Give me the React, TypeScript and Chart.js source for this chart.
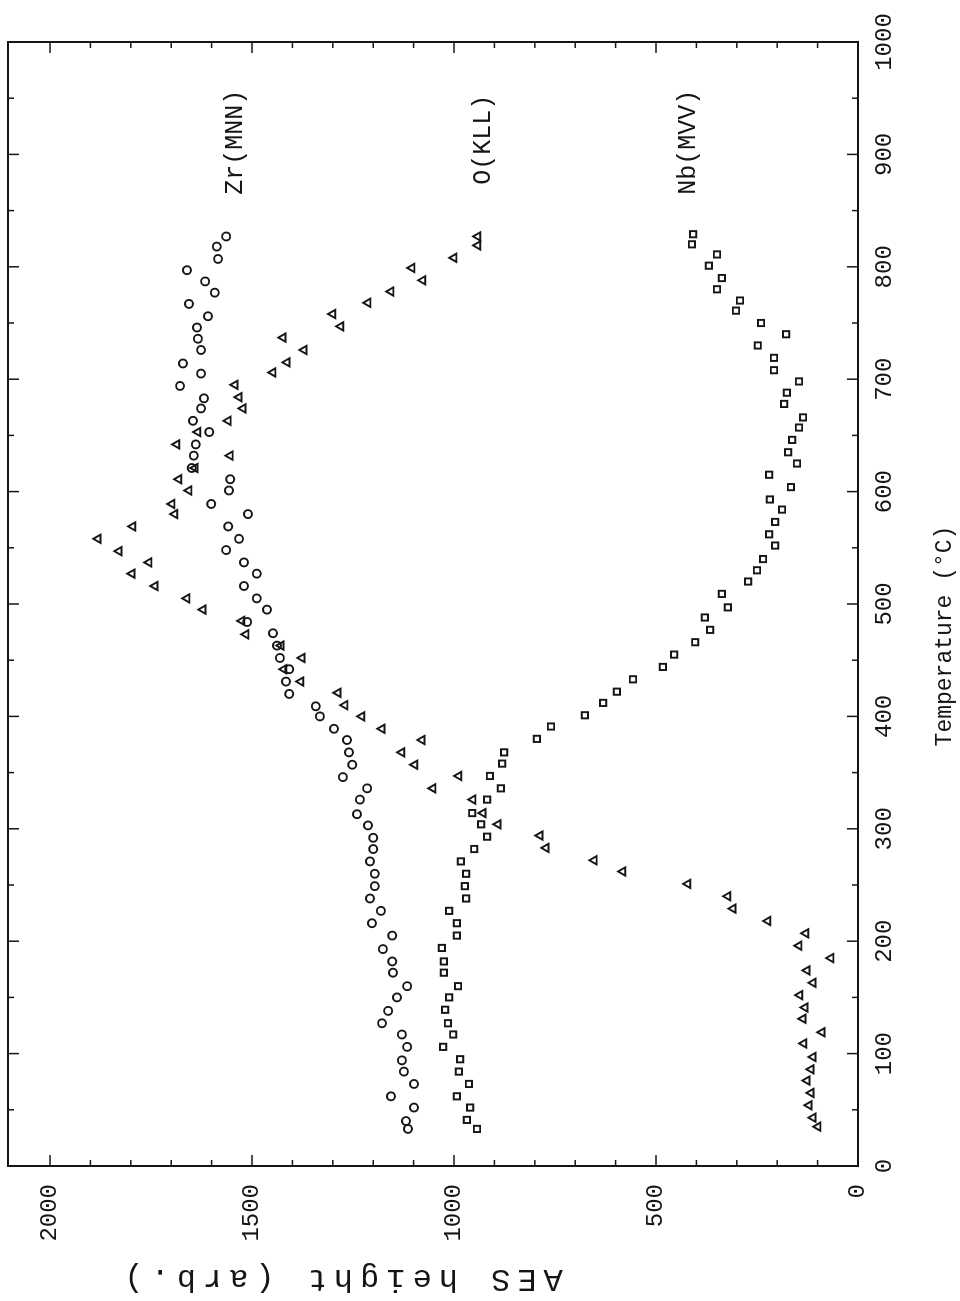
import React, { useEffect, useRef } from 'react';
import { Chart, registerables } from 'chart.js';

Chart.register(...registerables);

// Zr(MNN) – circles
const zrTemp = [33, 40, 52, 62, 73, 84, 94, 106, 117, 127, 138, 150, 160, 172, 182, 193, 205, 216, 227, 238, 249, 260, 271, 282, 292, 303, 313, 326, 336, 346, 357, 368, 379, 389, 400, 409, 420, 431, 442, 452, 463, 474, 484, 495, 505, 516, 527, 537, 548, 558, 569, 580, 589, 601, 611, 621, 632, 642, 653, 663, 674, 683, 694, 705, 714, 726, 736, 746, 756, 767, 777, 787, 797, 807, 818, 827];
const zrHeight = [1114, 1119, 1099, 1156, 1099, 1124, 1129, 1116, 1129, 1178, 1163, 1141, 1116, 1151, 1153, 1176, 1153, 1203, 1181, 1208, 1196, 1196, 1208, 1200, 1200, 1213, 1240, 1233, 1215, 1275, 1252, 1260, 1265, 1297, 1332, 1342, 1408, 1416, 1408, 1431, 1438, 1448, 1512, 1463, 1488, 1520, 1488, 1520, 1564, 1532, 1559, 1510, 1601, 1557, 1554, 1649, 1644, 1639, 1606, 1646, 1626, 1619, 1678, 1626, 1671, 1626, 1634, 1636, 1609, 1656, 1592, 1616, 1661, 1584, 1587, 1564];

// O(KLL) – triangles
const oTemp = [35, 43, 54, 65, 76, 86, 97, 109, 119, 131, 141, 152, 163, 174, 185, 196, 207, 218, 229, 240, 251, 262, 272, 283, 294, 304, 314, 326, 336, 347, 357, 368, 379, 389, 400, 410, 421, 431, 442, 452, 463, 473, 485, 495, 505, 516, 527, 537, 547, 558, 569, 580, 589, 601, 611, 621, 632, 642, 653, 663, 674, 684, 695, 706, 715, 726, 737, 747, 758, 768, 778, 788, 799, 808, 819, 827];
const oHeight = [99, 111, 121, 116, 126, 116, 111, 134, 89, 136, 131, 144, 111, 126, 67, 146, 129, 223, 309, 322, 421, 582, 653, 772, 787, 891, 928, 953, 1052, 988, 1097, 1129, 1079, 1178, 1228, 1270, 1287, 1379, 1421, 1376, 1428, 1515, 1525, 1621, 1661, 1740, 1797, 1755, 1829, 1881, 1795, 1691, 1698, 1656, 1681, 1641, 1554, 1686, 1634, 1559, 1522, 1532, 1542, 1448, 1413, 1371, 1423, 1280, 1300, 1213, 1156, 1077, 1104, 1000, 941, 941];

// Nb(MVV) – squares
const nbTemp = [33, 41, 52, 62, 73, 84, 95, 106, 117, 127, 139, 150, 160, 172, 182, 194, 205, 216, 227, 238, 249, 260, 271, 282, 293, 304, 314, 326, 336, 347, 358, 368, 380, 391, 401, 412, 422, 433, 444, 455, 466, 477, 488, 497, 509, 520, 530, 540, 552, 562, 573, 584, 593, 604, 615, 625, 635, 646, 657, 666, 678, 688, 698, 708, 719, 730, 740, 750, 761, 770, 780, 790, 801, 811, 820, 829];
const nbHeight = [943, 968, 960, 993, 963, 988, 985, 1027, 1002, 1015, 1022, 1012, 990, 1025, 1025, 1030, 993, 993, 1012, 970, 973, 970, 983, 950, 918, 933, 955, 918, 884, 911, 881, 876, 795, 760, 676, 631, 597, 557, 483, 455, 403, 366, 379, 322, 337, 272, 250, 235, 205, 220, 205, 188, 218, 166, 220, 151, 173, 163, 146, 136, 183, 176, 146, 208, 208, 248, 178, 240, 302, 292, 349, 337, 369, 349, 411, 408];

const tempTicks = [0, 100, 200, 300, 400, 500, 600, 700, 800, 900, 1000];
const heightTicks = [0, 500, 1000, 1500, 2000];
const seriesLabels = ['Zr(MNN)', 'O(KLL)', 'Nb(MVV)'];
const labelTemp = [864, 873, 864];
const labelHeight = [1540, 928, 421];
const xTitle = 'Temperature (°C)';
const yTitle = 'AES height (arb.)';

const W = 1301;
const H = 960;
const INK = '#151515';
const FONT = '"Liberation Mono", "DejaVu Sans Mono", monospace';

const toPoints = (xs: number[], ys: number[]) => xs.map((x, i) => ({ x, y: ys[i] }));

const resetPad = (s: any) => {
  s.paddingTop = 0;
  s.paddingBottom = 0;
  s.paddingLeft = 0;
  s.paddingRight = 0;
};

const decorPlugin = {
  id: 'decor',
  afterDraw(chart: any) {
    const { ctx, chartArea, scales } = chart;
    const { left, right, top, bottom } = chartArea;
    const xs = scales.x;
    const ys = scales.y;
    ctx.save();
    ctx.strokeStyle = INK;
    ctx.lineWidth = 2;
    ctx.strokeRect(left, top, right - left, bottom - top);
    ctx.lineWidth = 1.5;
    const line = (x1: number, y1: number, x2: number, y2: number) => {
      ctx.beginPath();
      ctx.moveTo(x1, y1);
      ctx.lineTo(x2, y2);
      ctx.stroke();
    };
    for (let t = 50; t < 1000; t += 50) {
      const px = xs.getPixelForValue(t);
      const len = t % 100 === 0 ? 11 : 6;
      line(px, bottom, px, bottom - len);
      line(px, top, px, top + len);
    }
    for (let a = 100; a <= 2100; a += 100) {
      const py = ys.getPixelForValue(a);
      if (py < top + 2) continue;
      const len = a % 500 === 0 ? 11 : 6;
      line(left, py, left + len, py);
      line(right, py, right - len, py);
    }
    ctx.fillStyle = INK;
    ctx.font = `25px ${FONT}`;
    ctx.textAlign = 'left';
    ctx.textBaseline = 'middle';
    seriesLabels.forEach((s, i) => {
      ctx.fillText(s, xs.getPixelForValue(labelTemp[i]), ys.getPixelForValue(labelHeight[i]));
    });
    ctx.textAlign = 'center';
    ctx.font = `23px ${FONT}`;
    ctx.fillText(xTitle, left + 530, bottom + 87);
    ctx.translate(23, top + 332);
    ctx.rotate(-Math.PI / 2);
    ctx.font = `32px ${FONT}`;
    (ctx as any).letterSpacing = '7px';
    ctx.fillText(yTitle, 0, 0);
    ctx.restore();
  },
};

export default function App() {
  const ref = useRef<HTMLCanvasElement | null>(null);
  useEffect(() => {
    if (!ref.current) return;
    const common = {
      showLine: false,
      borderColor: INK,
      backgroundColor: 'rgba(0,0,0,0)',
      pointBorderWidth: 1.9,
      pointHoverRadius: 0,
    };
    const chart = new Chart(ref.current, {
      type: 'scatter',
      data: {
        datasets: [
          { ...common, label: seriesLabels[0], data: toPoints(zrTemp, zrHeight), pointStyle: 'circle', pointRadius: 4 },
          { ...common, label: seriesLabels[1], data: toPoints(oTemp, oHeight), pointStyle: 'triangle', pointRadius: 4.8 },
          { ...common, label: seriesLabels[2], data: toPoints(nbTemp, nbHeight), pointStyle: 'rect', pointRadius: 4.4 },
        ],
      },
      options: {
        responsive: false,
        animation: false,
        devicePixelRatio: 1,
        layout: { padding: { top: 8, right: 42, left: 0, bottom: 0 } },
        plugins: { legend: { display: false }, tooltip: { enabled: false } },
        events: [],
        scales: {
          x: {
            type: 'linear',
            position: 'bottom',
            min: 0,
            max: 1000,
            afterBuildTicks: (s: any) => { s.ticks = tempTicks.map((v) => ({ value: v })); },
            afterFit: (s: any) => { s.height = H - 858; resetPad(s); },
            grid: { display: false, drawTicks: false },
            border: { display: false },
            ticks: { color: INK, font: { family: FONT, size: 24 }, padding: 12, maxRotation: 0, autoSkip: false, callback: (v: any) => String(v) },
          },
          y: {
            type: 'linear',
            position: 'left',
            min: 0,
            max: 2104,
            afterBuildTicks: (s: any) => { s.ticks = heightTicks.map((v) => ({ value: v })); },
            afterFit: (s: any) => { s.width = 135; resetPad(s); },
            grid: { display: false, drawTicks: false },
            border: { display: false },
            ticks: { color: INK, font: { family: FONT, size: 24 }, padding: 18, autoSkip: false, callback: (v: any) => String(v) },
          },
        },
      },
      plugins: [decorPlugin],
    } as any);
    return () => chart.destroy();
  }, []);

  return (
    <div style={{ position: 'absolute', left: 0, top: 0, width: 960, height: 1301, overflow: 'hidden', background: '#fff' }}>
      <div
        style={{
          position: 'absolute',
          left: 0,
          top: 0,
          width: W,
          height: H,
          transformOrigin: '0 0',
          transform: `translate(0px, ${W}px) rotate(-90deg)`,
        }}
      >
        <canvas ref={ref} width={W} height={H} style={{ display: 'block', width: W, height: H }} />
      </div>
    </div>
  );
}
